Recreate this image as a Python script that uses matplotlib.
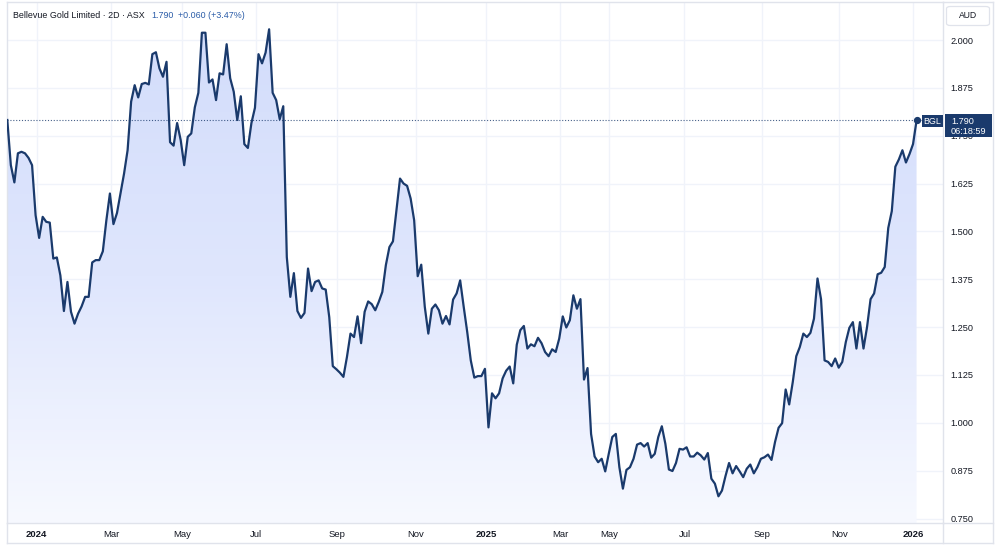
import numpy as np
import matplotlib
matplotlib.use("Agg")
import matplotlib.pyplot as plt
from matplotlib.patches import Rectangle, FancyBboxPatch
from matplotlib.lines import Line2D
from matplotlib.colors import LinearSegmentedColormap

plt.rcParams['font.family'] = ['Liberation Sans', 'DejaVu Sans']

# ---------------- data (2D bars, Bellevue Gold Limited, ASX) ----------------
prices_part1 = [
    1.791, 1.673, 1.628, 1.704, 1.708, 1.704, 1.692, 1.673, 1.542, 1.483,
    1.538, 1.525, 1.523, 1.429, 1.432, 1.385, 1.292, 1.368, 1.290, 1.259,
    1.285, 1.304, 1.329, 1.329, 1.419, 1.425, 1.425, 1.448, 1.529, 1.599,
    1.519, 1.548, 1.599, 1.651, 1.712, 1.839, 1.882, 1.850, 1.885, 1.888,
    1.884, 1.963, 1.968, 1.926, 1.904, 1.943, 1.733, 1.724, 1.783, 1.739,
    1.673, 1.747, 1.756, 1.824, 1.862, 2.019, 2.019, 1.889, 1.897, 1.843,
    1.913, 1.910, 1.989, 1.900, 1.865, 1.791, 1.853, 1.728, 1.718, 1.783,
    1.823, 1.963, 1.939, 1.967, 2.028, 1.862, 1.843, 1.793, 1.827,
]
prices_part2 = [
    1.433, 1.329, 1.391, 1.292, 1.274, 1.287, 1.403, 1.344, 1.368, 1.372,
    1.351, 1.348, 1.276, 1.148, 1.140, 1.131, 1.120, 1.172, 1.233, 1.224,
    1.278, 1.208, 1.290, 1.317, 1.310, 1.294, 1.316, 1.342, 1.412, 1.459,
    1.474, 1.555, 1.638, 1.625, 1.619, 1.586, 1.529, 1.383, 1.413, 1.303,
    1.233, 1.298, 1.309, 1.294, 1.259, 1.279, 1.257,
]
prices_part3 = [
    1.322, 1.338, 1.372, 1.303, 1.237, 1.163, 1.118, 1.122, 1.122, 1.141,
    0.988, 1.077, 1.064, 1.077, 1.116, 1.136, 1.147, 1.103, 1.204, 1.242,
    1.253, 1.194, 1.205, 1.200, 1.222, 1.208, 1.185, 1.174, 1.192, 1.185,
    1.220, 1.278, 1.249, 1.268, 1.333, 1.298, 1.323, 1.113, 1.143, 0.971,
    0.912, 0.897, 0.906, 0.873, 0.919, 0.963, 0.971, 0.884, 0.828, 0.877,
    0.884, 0.906, 0.943, 0.947, 0.938, 0.947, 0.909, 0.919, 0.963, 0.991,
    0.945, 0.878, 0.874, 0.895, 0.932, 0.930, 0.936, 0.912, 0.912, 0.922,
    0.915, 0.904, 0.921, 0.854, 0.841, 0.808, 0.823, 0.861, 0.895,
]
prices_part4 = [
    0.868, 0.887, 0.873, 0.858, 0.880, 0.891, 0.868, 0.884, 0.906, 0.910,
    0.917, 0.903, 0.950, 0.987, 0.999, 1.087, 1.048, 1.106, 1.174, 1.198,
    1.233, 1.224, 1.235, 1.272, 1.377, 1.323, 1.163, 1.159, 1.148, 1.168,
    1.144, 1.159, 1.211, 1.248, 1.263, 1.194, 1.263, 1.194, 1.250, 1.323,
    1.338, 1.388, 1.392, 1.407, 1.509, 1.553, 1.669, 1.688, 1.712, 1.680,
    1.702, 1.728, 1.790,
]
prices = prices_part1 + prices_part2 + prices_part3 + prices_part4

x_tick_labels = ['2024', 'Mar', 'May', 'Jul', 'Sep', 'Nov', '2025',
                 'Mar', 'May', 'Jul', 'Sep', 'Nov', '2026']
x_tick_bars = [8.3, 29.3, 49.3, 70.3, 93.3, 115.4, 135.3,
               156.2, 170.0, 191.4, 213.2, 235.2, 256.1]
y_ticks = [0.750, 0.875, 1.000, 1.125, 1.250, 1.375, 1.500,
           1.625, 1.750, 1.875, 2.000]

title_name = 'Bellevue Gold Limited · 2D · ASX'
symbol = 'BGL'
currency = 'AUD'
last_price = 1.790
change = 0.060
change_pct = 3.47
countdown = '06:18:59'

# ---------------- styling ----------------
W, H = 1000, 548
NAVY = '#1a3a6c'
GRID = '#f0f3fa'
BORDER = '#e0e3eb'
TEXT = '#131722'

def fx(px):
    return px / W

def fy(py):
    return 1 - py / H

fig = plt.figure(figsize=(W / 100, H / 100), dpi=100)
fig.patch.set_facecolor('white')

ax_l, ax_r, ax_t, ax_b = 7, 943, 2, 523
ax = fig.add_axes([fx(ax_l), fy(ax_b), (ax_r - ax_l) / W, (ax_b - ax_t) / H])
ax.set_facecolor('white')

x = np.arange(len(prices))
y = np.array(prices)

px_per_bar = 3.538
x0_px = 7.3
ax.set_xlim((ax_l - x0_px) / px_per_bar, (ax_r - x0_px) / px_per_bar)
px_per_unit = (518.5 - 40) / 1.25
ax.set_ylim(0.75 - (ax_b - 518.5) / px_per_unit, 2.0 + (40 - ax_t) / px_per_unit)
ylo, yhi = ax.get_ylim()

# grid
for t in y_ticks:
    ax.axhline(t, color=GRID, lw=1.0, zorder=0)
for t in x_tick_bars:
    ax.axvline(t, color=GRID, lw=1.0, zorder=0)

# gradient area fill
poly = ax.fill_between(x, y, ylo, facecolor='none', edgecolor='none')
cmap = LinearSegmentedColormap.from_list('area', ['#f7f9ff', '#dfe6fd', '#d3ddfb'])
grad = np.linspace(0, 1, 256).reshape(-1, 1)
im = ax.imshow(grad, extent=[x[0], x[-1], ylo, max(prices)], origin='lower',
               aspect='auto', cmap=cmap, zorder=1)
clip = poly.get_paths()[0]
im.set_clip_path(clip, transform=ax.transData)

# line
ax.plot(x, y, color=NAVY, lw=1.6, zorder=3, solid_joinstyle='round')
# last price dotted line + marker
ax.axhline(last_price, color=NAVY, lw=0.8, ls=(0, (1, 1.6)), alpha=0.8, zorder=2)
ax.plot(x[-1], y[-1], 'o', color=NAVY, ms=4.2, zorder=4)

# axes
ax.set_xticks(x_tick_bars)
ax.set_xticklabels(x_tick_labels)
for lbl, txt in zip(ax.get_xticklabels(), x_tick_labels):
    if txt.isdigit():
        lbl.set_fontweight('bold')
ax.tick_params(axis='x', length=0, pad=5.2, labelsize=6.8, labelcolor=TEXT)
ax.yaxis.tick_right()
ax.set_yticks(y_ticks)
ax.set_yticklabels([f'{v:.3f}' for v in y_ticks])
ax.tick_params(axis='y', length=0, pad=5.5, labelsize=6.6, labelcolor=TEXT)
for s in ax.spines.values():
    s.set_color(BORDER)
    s.set_linewidth(1.0)

# outer frame (x-axis row and price-axis column)
fig.add_artist(Line2D([fx(ax_r), fx(993)], [fy(ax_b), fy(ax_b)], color=BORDER, lw=1.0))
fig.add_artist(Line2D([fx(ax_r), fx(ax_r)], [fy(ax_b), fy(543)], color=BORDER, lw=1.0))
fig.add_artist(Line2D([fx(ax_l), fx(993)], [fy(543), fy(543)], color=BORDER, lw=1.0))
fig.add_artist(Line2D([fx(ax_l), fx(ax_l)], [fy(ax_b), fy(543)], color=BORDER, lw=1.0))
fig.add_artist(Line2D([fx(993), fx(993)], [fy(ax_t), fy(543)], color=BORDER, lw=1.0))
fig.add_artist(Line2D([fx(ax_r), fx(993)], [fy(ax_t), fy(ax_t)], color=BORDER, lw=1.0))

# currency box
fig.add_artist(FancyBboxPatch((fx(946.5), fy(25.5)), fx(43), 19 / H,
                              boxstyle='round,pad=0,rounding_size=0.004',
                              facecolor='white', edgecolor=BORDER, lw=0.9, zorder=5))
fig.text(fx(968), fy(15.8), currency, ha='center', va='center', fontsize=6.2,
         color=TEXT, zorder=6)

# symbol label + price label
fig.add_artist(Rectangle((fx(921.5), fy(127)), fx(21.3), 12 / H,
                         facecolor=NAVY, edgecolor='none', zorder=5))
fig.text(fx(932.2), fy(121.2), symbol, ha='center', va='center', fontsize=6.4,
         color='white', zorder=6)
fig.add_artist(Rectangle((fx(945), fy(137)), fx(47), 23 / H,
                         facecolor=NAVY, edgecolor='none', zorder=5))
fig.text(fx(951), fy(121.5), f'{last_price:.3f}', ha='left', va='center',
         fontsize=6.6, color='white', zorder=6)
fig.text(fx(951), fy(131.5), countdown, ha='left', va='center',
         fontsize=6.6, color='white', zorder=6)

# title line
fig.text(fx(13), fy(15), title_name, ha='left', va='center', fontsize=6.4, color=TEXT)
fig.text(fx(151), fy(15), f'{last_price:.3f}', ha='left', va='center',
         fontsize=6.4, color='#2a5ca8')
fig.text(fx(178), fy(15), f'+{change:.3f} (+{change_pct:.2f}%)', ha='left',
         va='center', fontsize=6.4, color='#2a5ca8')

fig.savefig('out.png', dpi=100, facecolor='white')
